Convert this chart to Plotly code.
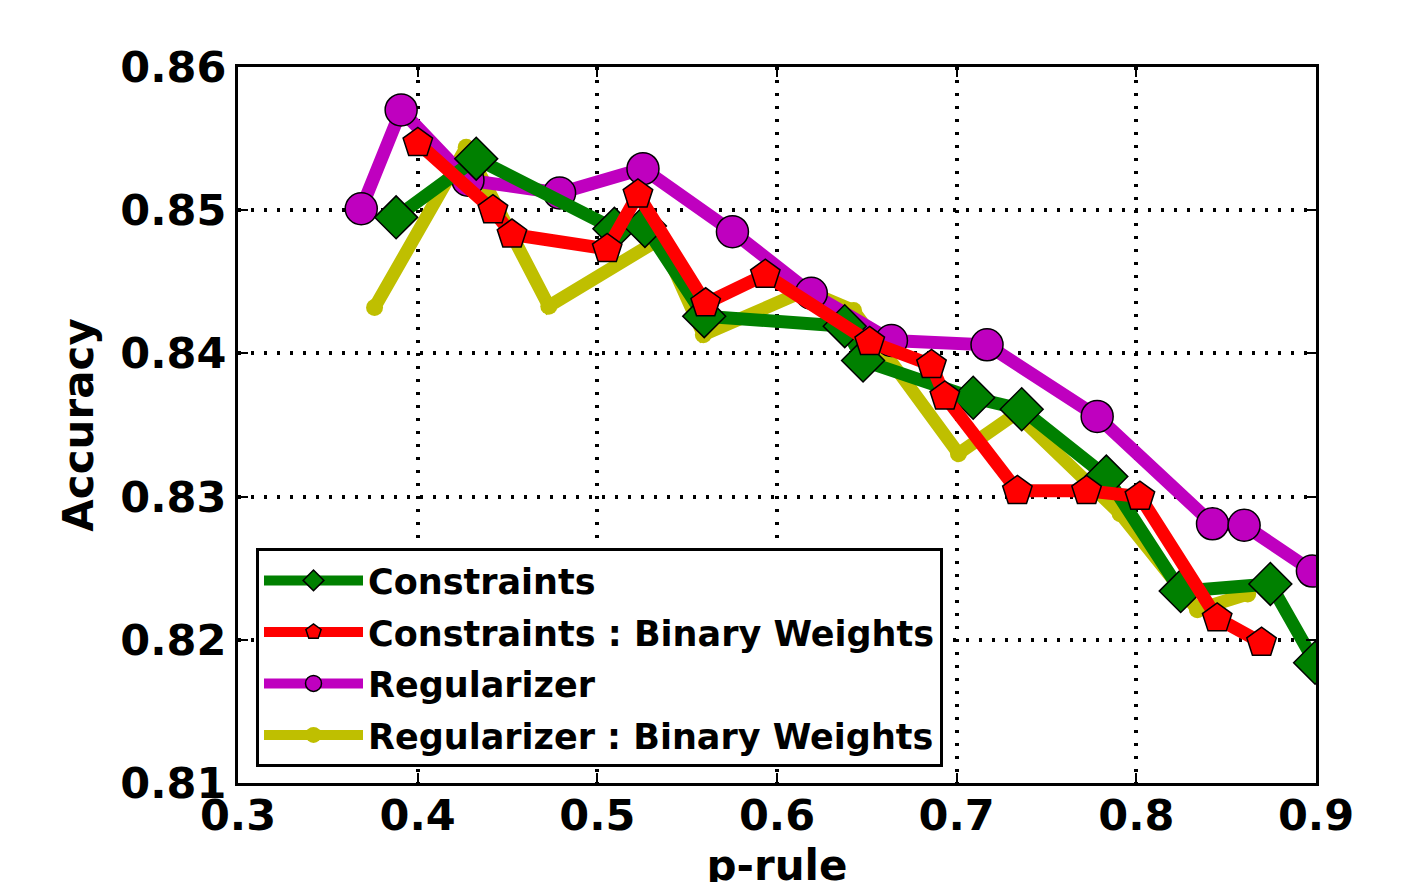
import plotly.graph_objects as go

# ---- data ----
con_x = [0.388, 0.4326, 0.5095, 0.5265, 0.5595, 0.6377, 0.6479, 0.7092, 0.7362, 0.7833, 0.8247, 0.8746, 0.8995]
con_y = [0.8495, 0.8536, 0.8487, 0.8489, 0.8426, 0.8419, 0.8395, 0.8369, 0.8361, 0.8314, 0.8234, 0.8239, 0.8184]

cbw_x = [0.4001, 0.4419, 0.4525, 0.5055, 0.5226, 0.5603, 0.5935, 0.6516, 0.686, 0.6934, 0.7338, 0.7723, 0.802, 0.845, 0.8697]
cbw_y = [0.8547, 0.8500, 0.8483, 0.8473, 0.8511, 0.8435, 0.8455, 0.8408, 0.8392, 0.8370, 0.8304, 0.8304, 0.8300, 0.8215, 0.8198]

reg_x = [0.3686, 0.3908, 0.428, 0.479, 0.5254, 0.5752, 0.6191, 0.6637, 0.7169, 0.7782, 0.8424, 0.8600, 0.898]
reg_y = [0.8501, 0.8570, 0.8521, 0.8512, 0.8529, 0.8485, 0.8442, 0.8409, 0.8406, 0.8356, 0.8281, 0.8280, 0.8248]

rbw_x = [0.376, 0.427, 0.473, 0.535, 0.559, 0.616, 0.6426, 0.701, 0.733, 0.791, 0.834, 0.862]
rbw_y = [0.8432, 0.8544, 0.8433, 0.8480, 0.8413, 0.8444, 0.8430, 0.8330, 0.8358, 0.8288, 0.8221, 0.8232]

x_ticks = [0.3, 0.4, 0.5, 0.6, 0.7, 0.8, 0.9]
y_ticks = [0.81, 0.82, 0.83, 0.84, 0.85, 0.86]

FONT = "DejaVu Sans"
LW = 13

fig = go.Figure()

fig.add_trace(go.Scatter(
    x=rbw_x, y=rbw_y, mode="lines+markers", name="Regularizer : Binary Weights",
    line=dict(color="#BFBF00", width=LW),
    marker=dict(symbol="circle", size=17, color="#BFBF00", line=dict(width=0)),
    legendrank=4, legendgroup="d"))

fig.add_trace(go.Scatter(
    x=reg_x, y=reg_y, mode="lines+markers", name="Regularizer",
    line=dict(color="#BF00BF", width=LW),
    marker=dict(symbol="circle", size=32, color="#BF00BF", line=dict(width=1.5, color="black")),
    legendrank=3, legendgroup="c"))

fig.add_trace(go.Scatter(
    x=con_x, y=con_y, mode="lines+markers", name="Constraints",
    line=dict(color="#008000", width=LW),
    marker=dict(symbol="diamond", size=33, color="#008000", line=dict(width=1.5, color="black")),
    legendrank=1, legendgroup="a"))

fig.add_trace(go.Scatter(
    x=cbw_x, y=cbw_y, mode="lines+markers", name="Constraints : Binary Weights",
    line=dict(color="#FF0000", width=LW),
    marker=dict(symbol="pentagon", size=31, color="#FF0000", line=dict(width=1.5, color="black")),
    legendrank=2, legendgroup="b"))

axis_common = dict(
    showline=True, linewidth=3, linecolor="black", mirror="ticks",
    ticks="inside", ticklen=10, tickwidth=2, tickcolor="black",
    showgrid=True, gridcolor="black", gridwidth=3.5, griddash="3px,10px",
    zeroline=False,
    tickfont=dict(family=FONT, size=43, color="black", weight="bold"),
)

fig.update_layout(
    width=1410, height=882, autosize=False,
    margin=dict(l=230, r=102, t=59, b=107),
    paper_bgcolor="white", plot_bgcolor="white",
    font=dict(family=FONT, color="black"),
    xaxis=dict(range=[0.3, 0.9], tickvals=x_ticks, ticktext=[f"{v:.1f}" for v in x_ticks],
               ticklabelstandoff=-8,
               title=dict(text="p-rule", font=dict(family=FONT, size=42, weight="bold"), standoff=36),
               automargin=False, **axis_common),
    yaxis=dict(range=[0.81, 0.86], tickvals=y_ticks, ticktext=[f"{v:.2f}" for v in y_ticks],
               title=dict(text="Accuracy", font=dict(family=FONT, size=42, weight="bold"), standoff=14),
               automargin=False, **axis_common),
    legend=dict(
        x=0.0167, y=0.328, xanchor="left", yanchor="top",
        bgcolor="white", bordercolor="black", borderwidth=3,
        font=dict(family=FONT, size=35, color="black", weight="bold"),
        traceorder="grouped", tracegroupgap=3, itemwidth=99,
    ),
    showlegend=True,
)

fig.write_html("out.html")
